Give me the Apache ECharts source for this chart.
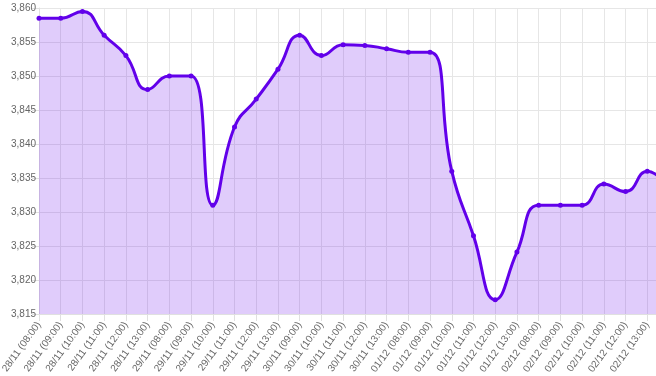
<!DOCTYPE html>
<html>
<head>
<meta charset="utf-8">
<script src="https://cdn.jsdelivr.net/npm/echarts@6/dist/echarts.min.js"></script>
<style>
html,body{margin:0;padding:0;background:#fff;}
#chart{width:656px;height:376px;}
</style>
</head>
<body>
<div id="chart"></div>
<script>
var categories = [
  '28/11 (08:00)','28/11 (09:00)','28/11 (10:00)','28/11 (11:00)','28/11 (12:00)','28/11 (13:00)',
  '29/11 (08:00)','29/11 (09:00)','29/11 (10:00)','29/11 (11:00)','29/11 (12:00)','29/11 (13:00)',
  '30/11 (09:00)','30/11 (10:00)','30/11 (11:00)','30/11 (12:00)','30/11 (13:00)',
  '01/12 (08:00)','01/12 (09:00)','01/12 (10:00)','01/12 (11:00)','01/12 (12:00)','01/12 (13:00)',
  '02/12 (08:00)','02/12 (09:00)','02/12 (10:00)','02/12 (11:00)','02/12 (12:00)','02/12 (13:00)',
  ''
];
var values = [
  3.8585, 3.8585, 3.8595, 3.8560, 3.8530, 3.8480,
  3.8500, 3.8500, 3.8310, 3.8425, 3.8466, 3.8510,
  3.8560, 3.8530, 3.8546, 3.8545, 3.8540,
  3.8535, 3.8535, 3.8360, 3.8265, 3.8171, 3.8241,
  3.8310, 3.8310, 3.8310, 3.8341, 3.8330, 3.8360,
  3.8335
];
var yMin = 3.815, yMax = 3.860, yStep = 0.005;

var chart = echarts.init(document.getElementById('chart'));
chart.setOption({
  animation: false,
  grid: {left: 39, right: -13, top: 8, bottom: 62, containLabel: false, outerBoundsMode: 'none'},
  xAxis: {
    type: 'category',
    data: categories,
    boundaryGap: false,
    axisLine: {lineStyle: {color: '#e0e0e0'}},
    axisTick: {show: true, length: 7, lineStyle: {color: '#e0e0e0'}, alignWithLabel: true},
    splitLine: {show: true, lineStyle: {color: '#e6e6e6'}},
    axisLabel: {interval: 0, rotate: 54, fontSize: 10, color: '#666', fontFamily: 'Liberation Sans, Arial, sans-serif', margin: 9}
  },
  yAxis: {
    type: 'value',
    min: yMin, max: yMax, interval: yStep,
    axisLine: {show: true, lineStyle: {color: '#e0e0e0'}},
    axisTick: {show: true, length: 7, lineStyle: {color: '#e0e0e0'}},
    splitLine: {show: true, lineStyle: {color: '#e6e6e6'}},
    axisLabel: {fontSize: 10, color: '#666', fontFamily: 'Liberation Sans, Arial, sans-serif', margin: 3,
      formatter: function(v){ return v.toFixed(3).replace('.', ','); }}
  },
  series: [{
    type: 'line',
    data: values,
    smooth: 0.5,
    symbol: 'circle',
    symbolSize: 5,
    showAllSymbol: true,
    itemStyle: {color: '#6200ea'},
    lineStyle: {color: '#6200ea', width: 3},
    areaStyle: {color: 'rgba(98,0,234,0.2)', opacity: 1}
  }]
});
</script>
</body>
</html>
